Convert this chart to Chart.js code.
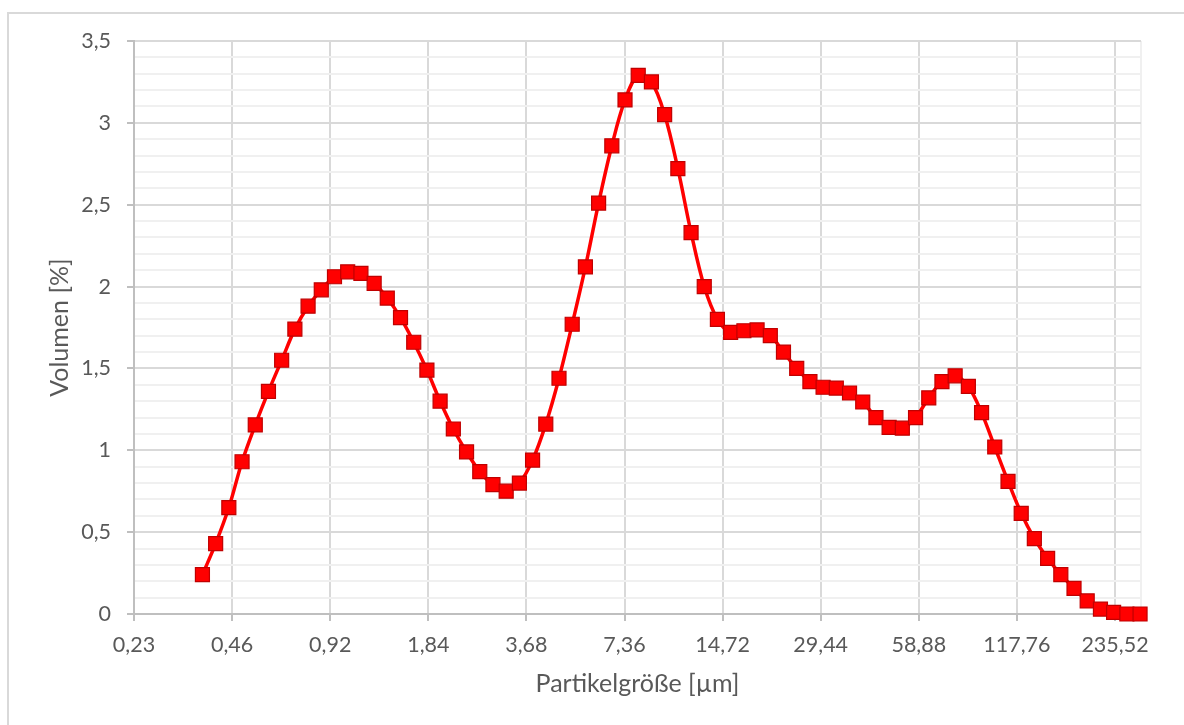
<!DOCTYPE html>
<html lang="de">
<head>
<meta charset="utf-8">
<title>Partikelgrößenverteilung</title>
<script src="https://cdn.jsdelivr.net/npm/chart.js@4/dist/chart.umd.min.js"></script>
<style>
  html, body { margin: 0; padding: 0; background: #ffffff; }
  #wrap { position: relative; width: 1184px; height: 725px; overflow: hidden; }
  #frame {
    position: absolute; left: 7px; top: 12px; width: 1220px; height: 760px;
    border: 2px solid #d9d9d9; box-sizing: border-box;
  }
  #chart { position: absolute; left: 0; top: 0; }
</style>
</head>
<body>
<div id="wrap">
  <div id="frame"></div>
  <canvas id="chart" width="1184" height="725"></canvas>
</div>
<script>
// Size classes of the distribution [µm]
const particleSizes = [
  0.373, 0.4095, 0.4495, 0.4935, 0.5418, 0.5947, 0.6529, 0.7168, 0.7869, 0.8638,
  0.9483, 1.041, 1.143, 1.255, 1.377, 1.512, 1.660, 1.822, 2.000, 2.196,
  2.411, 2.647, 2.905, 3.190, 3.502, 3.844, 4.220, 4.633, 5.086, 5.583,
  6.129, 6.729, 7.387, 8.109, 8.902, 9.773, 10.73, 11.78, 12.93, 14.19,
  15.58, 17.11, 18.78, 20.62, 22.63, 24.85, 27.28, 29.94, 32.87, 36.09,
  39.62, 43.49, 47.74, 52.41, 57.54, 63.17, 69.34, 76.12, 83.57, 91.74,
  100.7, 110.6, 121.4, 133.2, 146.3, 160.6, 176.3, 193.5, 212.5, 233.2,
  256.1, 281.1
];

// Volume fraction per size class [%]
const volumePercent = [
  0.24, 0.43, 0.65, 0.93, 1.155, 1.36, 1.55, 1.74, 1.88, 1.98,
  2.06, 2.09, 2.08, 2.02, 1.93, 1.81, 1.66, 1.49, 1.30, 1.13,
  0.99, 0.87, 0.79, 0.75, 0.80, 0.94, 1.16, 1.44, 1.77, 2.12,
  2.51, 2.86, 3.14, 3.29, 3.25, 3.05, 2.72, 2.33, 2.00, 1.80,
  1.72, 1.73, 1.735, 1.70, 1.60, 1.50, 1.42, 1.385, 1.38, 1.35,
  1.295, 1.20, 1.14, 1.135, 1.20, 1.32, 1.42, 1.455, 1.39, 1.23,
  1.02, 0.81, 0.615, 0.46, 0.34, 0.24, 0.157, 0.08, 0.03, 0.01,
  0, 0
];

// Size axis (log, base 2 steps) tick positions and labels
const xTickValues = [0.23, 0.46, 0.92, 1.84, 3.68, 7.36, 14.72, 29.44, 58.88, 117.76, 235.52];
const xTickLabels = ['0,23', '0,46', '0,92', '1,84', '3,68', '7,36', '14,72', '29,44', '58,88', '117,76', '235,52'];
const xMin = 0.23;
const xMax = 283;

// Volume axis labelled ticks
const yTickValues = [0, 0.5, 1, 1.5, 2, 2.5, 3, 3.5];
const yTickLabels = ['0', '0,5', '1', '1,5', '2', '2,5', '3', '3,5'];
const yMin = 0;
const yMax = 3.5;

const TEXT = '#595959';
const AXIS = '#bfbfbf';
const GRID_MAJOR = '#d9d9d9';
const GRID_MINOR = '#f0f0f0';
const FONT = 'Lato';

function yMajorIndex(v) {
  return yTickValues.findIndex(t => Math.abs(t - v) < 1e-6);
}

new Chart(document.getElementById('chart'), {
  type: 'scatter',
  data: {
    datasets: [{
      label: 'Volumen',
      data: particleSizes.map((x, i) => ({ x: x, y: volumePercent[i] })),
      showLine: true,
      borderColor: '#ff0000',
      borderWidth: 3.5,
      tension: 0.35,
      pointStyle: 'rect',
      pointRadius: 9.9,
      pointHoverRadius: 9.9,
      pointBackgroundColor: '#ff0000',
      pointBorderColor: '#c00000',
      pointBorderWidth: 1.2,
      clip: false
    }]
  },
  options: {
    responsive: false,
    animation: false,
    devicePixelRatio: 1,
    events: [],
    layout: { padding: { left: 0, right: 43, top: 41, bottom: 0 } },
    plugins: {
      legend: { display: false },
      tooltip: { enabled: false }
    },
    scales: {
      x: {
        type: 'logarithmic',
        min: xMin,
        max: xMax,
        afterBuildTicks: (scale) => {
          scale.ticks = xTickValues.map(v => ({ value: v })).concat([{ value: xMax }]);
        },
        afterFit: (scale) => { scale.height = 111; },
        border: { display: true, color: AXIS, width: 2 },
        grid: {
          color: (ctx) => (ctx.tick && ctx.tick.value === xMax) ? GRID_MINOR : GRID_MAJOR,
          tickColor: (ctx) => (ctx.tick && ctx.tick.value === xMax) ? 'rgba(0,0,0,0)' : AXIS,
          lineWidth: 2,
          tickWidth: 2,
          tickLength: 7
        },
        ticks: {
          autoSkip: false,
          maxRotation: 0,
          minRotation: 0,
          padding: 11,
          color: TEXT,
          font: { family: FONT, size: 21.5, lineHeight: 1.2 },
          callback: (value, index) => index < xTickLabels.length ? xTickLabels[index] : ''
        },
        title: {
          display: true,
          text: 'Partikelgröße [µm]',
          color: TEXT,
          font: { family: FONT, size: 25, lineHeight: 1.2 },
          padding: { top: 0, bottom: 26 }
        }
      },
      y: {
        type: 'linear',
        min: yMin,
        max: yMax,
        afterFit: (scale) => { scale.width = 134; },
        border: { display: true, color: AXIS, width: 2 },
        grid: {
          color: (ctx) => (ctx.tick && yMajorIndex(ctx.tick.value) >= 0) ? GRID_MAJOR : GRID_MINOR,
          tickColor: (ctx) => (ctx.tick && yMajorIndex(ctx.tick.value) >= 0) ? AXIS : 'rgba(0,0,0,0)',
          lineWidth: 2,
          tickWidth: 2,
          tickLength: 7
        },
        ticks: {
          stepSize: 0.1,
          autoSkip: false,
          padding: 16,
          color: TEXT,
          font: { family: FONT, size: 21.5, lineHeight: 1.2 },
          callback: (value) => {
            const i = yMajorIndex(value);
            return i >= 0 ? yTickLabels[i] : '';
          }
        },
        title: {
          display: true,
          text: 'Volumen [%]',
          color: TEXT,
          font: { family: FONT, size: 25, lineHeight: 1.2 },
          padding: { top: 44.5, bottom: 0 }
        }
      }
    }
  }
});
</script>
</body>
</html>
